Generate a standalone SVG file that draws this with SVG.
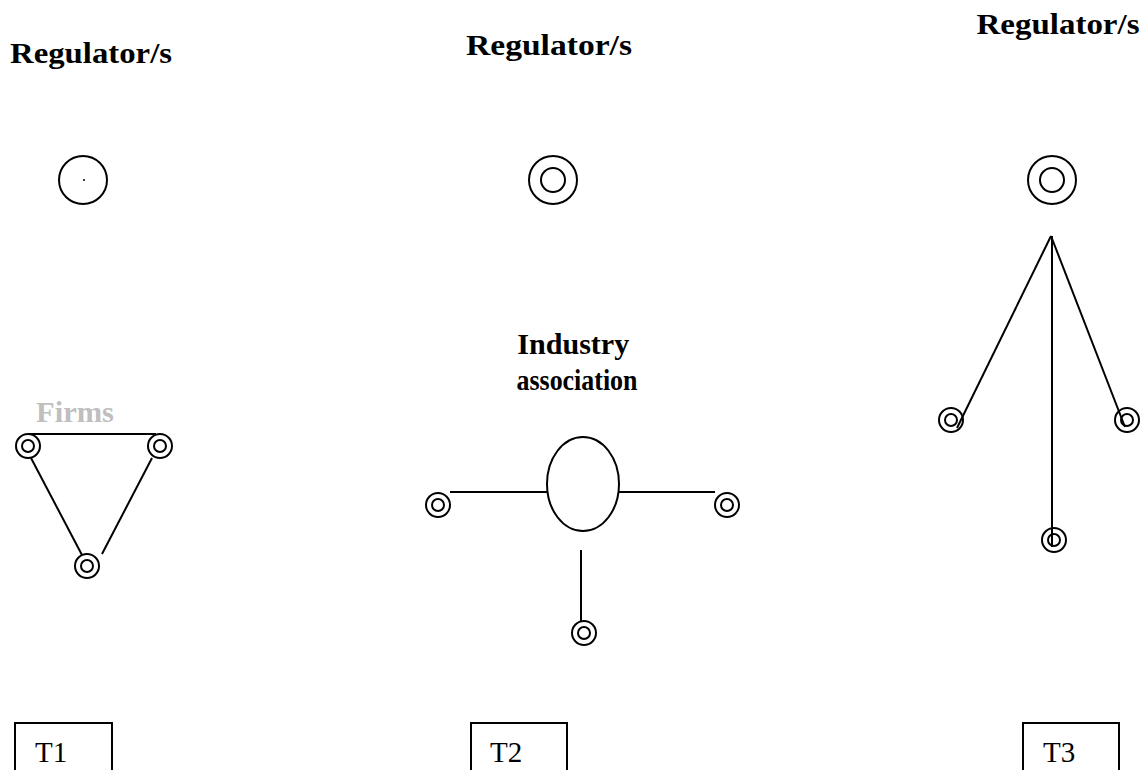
<svg xmlns="http://www.w3.org/2000/svg" width="1148" height="770" viewBox="0 0 1148 770">
  <style>
    .lbl { font-family: "Liberation Serif", "DejaVu Serif", serif; font-weight: bold; font-size: 30px; fill: #000; }
    .grey { fill: #bfbfbf; }
    .tag { font-family: "Liberation Serif", "DejaVu Serif", serif; font-size: 29px; fill: #000; }
    .ring { fill: #fff; stroke: #000; stroke-width: 2; }
    .link { stroke: #000; stroke-width: 2; fill: none; }
    .box { fill: #fff; stroke: #000; stroke-width: 2; }
  </style>
  <defs>
    <!-- small firm marker: double ring -->
    <g id="firm">
      <circle class="ring" r="12"/>
      <circle class="ring" r="6"/>
    </g>
    <!-- regulator marker: large double ring -->
    <g id="reg">
      <circle class="ring" r="24"/>
      <circle class="ring" r="12"/>
    </g>
  </defs>
  <rect width="1148" height="770" fill="#fff"/>

  <!-- connectors -->
  <g id="connectors">
    <!-- T1 firm triangle -->
    <line class="link" x1="29" y1="434" x2="156" y2="434"/>
    <line class="link" x1="31" y1="458" x2="82" y2="555"/>
    <line class="link" x1="152" y1="458" x2="102" y2="554"/>
    <!-- T2 spokes to association -->
    <line class="link" x1="450" y1="492" x2="547" y2="492"/>
    <line class="link" x1="619" y1="492" x2="715" y2="492"/>
    <line class="link" x1="581" y1="550" x2="581" y2="622"/>
  </g>

  <!-- T1 -->
  <text id="t1-reg-label" class="lbl" x="91" y="63" text-anchor="middle" textLength="162" lengthAdjust="spacingAndGlyphs">Regulator/s</text>
  <g id="t1-regulator">
    <circle class="ring" cx="83" cy="180" r="24"/>
    <circle cx="84" cy="180" r="1" fill="#000"/>
  </g>
  <text id="t1-firms-label" class="lbl grey" x="75" y="422" text-anchor="middle" textLength="78" lengthAdjust="spacingAndGlyphs">Firms</text>
  <g id="t1-firm-a"><use href="#firm" x="28" y="446"/></g>
  <g id="t1-firm-b"><use href="#firm" x="160" y="446"/></g>
  <g id="t1-firm-c"><use href="#firm" x="87" y="566"/></g>

  <!-- T2 -->
  <text id="t2-reg-label" class="lbl" x="549" y="55" text-anchor="middle" textLength="166" lengthAdjust="spacingAndGlyphs">Regulator/s</text>
  <g id="t2-regulator"><use href="#reg" x="553" y="180"/></g>
  <text id="t2-assoc-label" class="lbl" text-anchor="middle">
    <tspan x="577" y="354" textLength="112" lengthAdjust="spacingAndGlyphs">Industry</tspan>
    <tspan x="577" y="390" textLength="121" lengthAdjust="spacingAndGlyphs">association</tspan>
  </text>
  <g id="t2-association"><ellipse class="ring" cx="583" cy="484" rx="36" ry="47"/></g>
  <g id="t2-firm-a"><use href="#firm" x="438" y="505"/></g>
  <g id="t2-firm-b"><use href="#firm" x="727" y="505"/></g>
  <g id="t2-firm-c"><use href="#firm" x="584" y="633"/></g>

  <!-- T3 -->
  <text id="t3-reg-label" class="lbl" x="1058" y="34" text-anchor="middle" textLength="163" lengthAdjust="spacingAndGlyphs">Regulator/s</text>
  <g id="t3-regulator"><use href="#reg" x="1052" y="180"/></g>
  <g id="t3-firm-a"><use href="#firm" x="951" y="420"/></g>
  <g id="t3-firm-b"><use href="#firm" x="1127" y="420"/></g>
  <g id="t3-firm-c"><use href="#firm" x="1054" y="540"/></g>
  <!-- T3 direct links drawn over the firm rings -->
  <g id="t3-links">
    <line class="link" x1="1051" y1="236" x2="957" y2="428"/>
    <line class="link" x1="1051" y1="236" x2="1125" y2="427"/>
    <line class="link" x1="1052" y1="236" x2="1052" y2="547"/>
  </g>

  <!-- period tags -->
  <g id="tag-t1"><rect class="box" x="15" y="723" width="97" height="60"/><text class="tag" x="35" y="762">T1</text></g>
  <g id="tag-t2"><rect class="box" x="471" y="723" width="96" height="60"/><text class="tag" x="490" y="762">T2</text></g>
  <g id="tag-t3"><rect class="box" x="1023" y="723" width="96" height="60"/><text class="tag" x="1043" y="762">T3</text></g>
</svg>
